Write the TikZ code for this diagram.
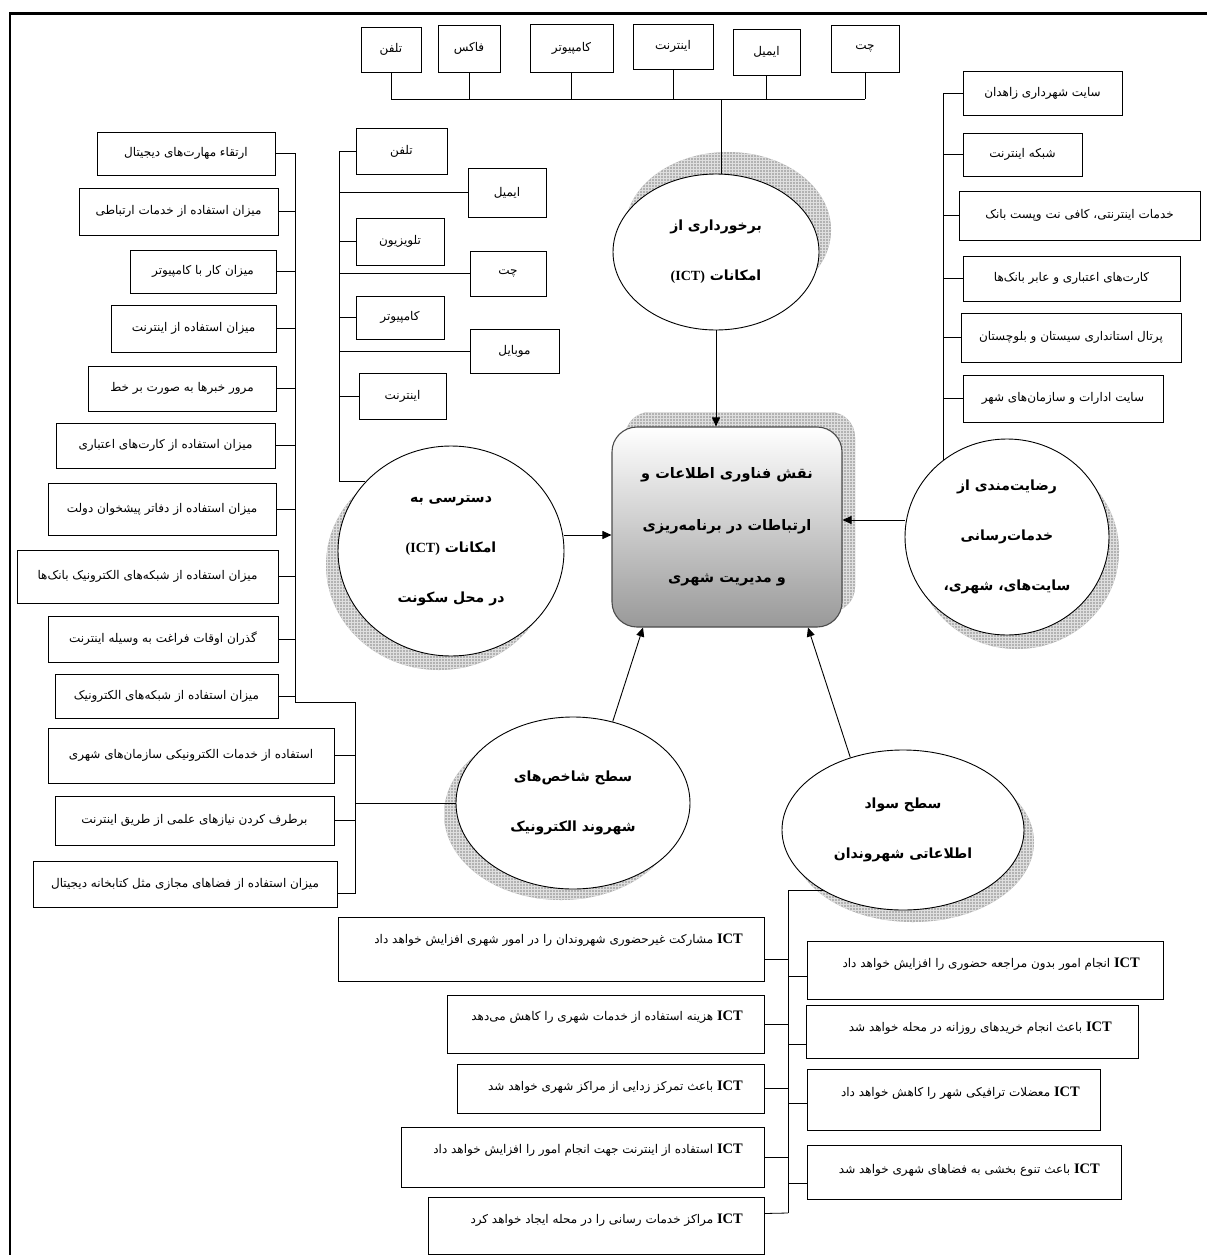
\documentclass[tikz,border=0pt]{standalone}
\usepackage{fontspec}
\usetikzlibrary{shapes.geometric,patterns,arrows.meta}
\TeXXeTstate=1
\newfontfamily\arabicfont[Script=Arabic]{DejaVu Sans}
\newfontfamily\latfont{Liberation Serif}
\newcommand\ictw{\beginL{\latfont\bfseries\fontsize{14.5}{14}\selectfont ICT}\endL}
\newcommand\icp{\beginL{\latfont\bfseries (ICT)}\endL}
\newcommand\bx[6]{\node[box, minimum width={#4-#2}, minimum height={#5-#3}] (#1) at ({(#2+#4)/2},{(#3+#5)/2}) {#6};}
\tikzset{
  box/.style={draw=black, line width=0.8pt, inner sep=0pt, fill=white, font=\arabicfont\fontsize{12}{14}\selectfont},
  btxt/.style={anchor=east, inner sep=0pt, font=\arabicfont\fontsize{12}{14}\selectfont},
  ell/.style={ellipse, draw=black, line width=0.9pt, fill=white, inner sep=0pt, align=center, font=\arabicfont\bfseries\fontsize{14}{50}\selectfont},
  shd/.style={fill=gray!60},
  shdp/.style={pattern=grid, pattern color=gray!25},
  ln/.style={draw=black, line width=0.8pt},
  arr/.style={draw=black, line width=0.9pt, -{Triangle[length=9pt,width=8pt]}}
}
\begin{document}
\begin{tikzpicture}[x=1pt,y=-1pt]
\useasboundingbox (0,0) rectangle (1207,1255);
\fill[white] (0,0) rectangle (1207,1255);
% frame
\draw[line width=3pt] (9,14) -- (1207,14);
\draw[line width=2pt] (10,14) -- (10,1255);

% ---------- shadows ----------
\foreach \s in {shd,shdp}{
  \path[\s] (728,230) ellipse [x radius=103, y radius=78];
  \path[\s, rounded corners=25pt] (625,412) rectangle (855,612);
  \path[\s] (439,565) ellipse [x radius=113, y radius=105];
  \path[\s] (1017,551) ellipse [x radius=102, y radius=98];
  \path[\s] (561,814) ellipse [x radius=117, y radius=86];
  \path[\s] (913,842) ellipse [x radius=121, y radius=80];
}

% ---------- central box ----------
\node[draw=black!70, line width=1.1pt, rounded corners=25pt, top color=white, bottom color=gray!80,
  minimum width=230, minimum height=200, inner sep=0pt, align=center,
  font=\arabicfont\bfseries\fontsize{14.5}{52}\selectfont] (C) at (727,527)
  {\beginR نقش فناوری اطلاعات و\endR\\\beginR ارتباطات در برنامه^^^^200cریزی\endR\\\beginR و مدیریت شهری\endR};

% ---------- ellipses ----------
\node[ell, minimum width=206, minimum height=156] (E1) at (716,252)
  {\beginR برخورداری از\endR\\\beginR امکانات \icp\endR};
\node[ell, minimum width=226, minimum height=210] (E2) at (451,551)
  {\beginR دسترسی به\endR\\\beginR امکانات \icp\endR\\\beginR در محل سکونت\endR};
\node[ell, minimum width=204, minimum height=196] (E3) at (1007,537)
  {\beginR رضایت^^^^200cمندی از\endR\\\beginR خدمات^^^^200cرسانی\endR\\\beginR سایت^^^^200cهای، شهری،\endR};
\node[ell, minimum width=234, minimum height=172] (E4) at (573,803)
  {\beginR سطح شاخص^^^^200cهای\endR\\\beginR شهروند الکترونیک\endR};
\node[ell, minimum width=242, minimum height=160] (E5) at (903,830)
  {\beginR سطح سواد\endR\\\beginR اطلاعاتی شهروندان\endR};

% ---------- top boxes ----------
\bx{ta}{361}{27}{421}{72}{تلفن}
\bx{tb}{438}{25}{500}{72}{فاکس}
\bx{tc}{530}{24}{613}{72}{کامپیوتر}
\bx{td}{633}{24}{713}{69}{اینترنت}
\bx{te}{733}{29}{800}{75}{ایمیل}
\bx{tf}{831}{25}{899}{72}{چت}
\coordinate (B) at (721,99);
\draw[ln] (ta.south |- B) -- (tf.south |- B);
\foreach \n in {ta,tb,tc,td,te,tf} \draw[ln] (\n.south) -- (\n.south |- B);
\draw[ln] (B) -- (B |- E1.north);

% ---------- left-middle boxes ----------
\bx{ma}{356}{128}{447}{174}{تلفن}
\bx{mb}{468}{168}{546}{217}{ایمیل}
\bx{mc}{356}{218}{444}{265}{تلویزیون}
\bx{md}{470}{251}{546}{296}{چت}
\bx{me}{356}{296}{444}{339}{کامپیوتر}
\bx{mf}{470}{329}{559}{373}{موبایل}
\bx{mg}{359}{373}{446}{419}{اینترنت}
\coordinate (T2) at (339,151);
\draw[ln] (ma.west) -| (T2 |- E2.141) -- (E2.141);
\foreach \n in {mb,mc,md,me,mf,mg} \draw[ln] (\n.west) -- (\n.west -| T2);

% ---------- right boxes ----------
\bx{ra}{963}{71}{1122}{115}{\beginR سایت شهرداری زاهدان\endR}
\bx{rb}{963}{133}{1082}{176}{\beginR شبکه اینترنت\endR}
\bx{rc}{959}{191}{1200}{240}{\beginR خدمات اینترنتی، کافی نت وپست بانک\endR}
\bx{rd}{963}{256}{1180}{301}{\beginR کارت^^^^200cهای اعتباری و عابر بانک^^^^200cها\endR}
\bx{re}{961}{313}{1181}{362}{\beginR پرتال استانداری سیستان و بلوچستان\endR}
\bx{rf}{963}{375}{1163}{422}{\beginR سایت ادارات و سازمان^^^^200cهای شهر\endR}
\coordinate (T3) at (943,93);
\draw[ln] (ra.west) -| (E3.130 -| T3);
\foreach \n in {rb,rc,rd,re,rf} \draw[ln] (\n.west) -- (\n.west -| T3);

% ---------- left column ----------
\bx{la}{97}{132}{275}{175}{\beginR ارتقاء مهارت^^^^200cهای دیجیتال\endR}
\bx{lb}{79}{188}{278}{235}{\beginR میزان استفاده از خدمات ارتباطی\endR}
\bx{lc}{130}{250}{276}{293}{\beginR میزان کار با کامپیوتر\endR}
\bx{ld}{111}{305}{276}{352}{\beginR میزان استفاده از اینترنت\endR}
\bx{le}{88}{366}{276}{411}{\beginR مرور خبرها به صورت بر خط\endR}
\bx{lf}{56}{423}{275}{468}{\beginR میزان استفاده از کارت^^^^200cهای اعتباری\endR}
\bx{lg}{48}{483}{276}{535}{\beginR میزان استفاده از دفاتر پیشخوان دولت\endR}
\bx{lh}{17}{550}{278}{603}{\beginR میزان استفاده از شبکه^^^^200cهای الکترونیک بانک^^^^200cها\endR}
\bx{li}{48}{616}{278}{662}{\beginR گذران اوقات فراغت به وسیله اینترنت\endR}
\bx{lj}{55}{674}{278}{718}{\beginR میزان استفاده از شبکه^^^^200cهای الکترونیک\endR}
\bx{lk}{48}{728}{334}{783}{\beginR استفاده از خدمات الکترونیکی سازمان^^^^200cهای شهری\endR}
\bx{ll}{55}{796}{334}{845}{\beginR برطرف کردن نیازهای علمی از طریق اینترنت\endR}
\bx{lm}{33}{861}{337}{907}{\beginR میزان استفاده از فضاهای مجازی مثل کتابخانه دیجیتال\endR}
\coordinate (T1) at (295,702);
\coordinate (T4) at (355,702);
\draw[ln] (la.east) -| (T1) -- (T4) |- ([yshift=-9pt]lm.east);
\foreach \n in {lb,lc,ld,le,lf,lg,lh,li,lj} \draw[ln] (\n.east) -- (\n.east -| T1);
\foreach \n in {lk,ll} \draw[ln] (\n.east) -- (\n.east -| T4);
\draw[ln] (E4.west) -- (E4.west -| T4);

% ---------- bottom boxes ----------
\coordinate (T5) at (788,1213);
\node[box, minimum width=426, minimum height=64] (pa) at (551,949) {};
\node[box, minimum width=317, minimum height=58] (pb) at (605.5,1024) {};
\node[box, minimum width=307, minimum height=49] (pc) at (610.5,1088.5) {};
\node[box, minimum width=363, minimum height=60] (pd) at (582.5,1157) {};
\node[box, minimum width=336, minimum height=57] (pe) at (596,1225.5) {};
\node[btxt] (pat) at (743,940) {\beginR\ictw\ مشارکت غیرحضوری شهروندان را در امور شهری افزایش خواهد داد\endR};
\node[btxt] (pbt) at (743,1017) {\beginR\ictw\ هزینه استفاده از خدمات شهری را کاهش می^^^^200cدهد\endR};
\node[btxt] (pct) at (743,1087) {\beginR\ictw\ باعث تمرکز زدایی از مراکز شهری خواهد شد\endR};
\node[btxt] (pdt) at (743,1150) {\beginR\ictw\ استفاده از اینترنت جهت انجام امور را افزایش خواهد داد\endR};
\node[btxt] (pet) at (743,1220) {\beginR\ictw\ مراکز خدمات رسانی را در  محله ایجاد خواهد کرد\endR};

\node[box, minimum width=356, minimum height=58] (qa) at (985,970) {};
\node[box, minimum width=332, minimum height=53] (qb) at (972,1031.5) {};
\node[box, minimum width=293, minimum height=61] (qc) at (953.5,1099.5) {};
\node[box, minimum width=314, minimum height=54] (qd) at (964,1172) {};
\node[btxt] (qat) at (1140,964) {\beginR\ictw\ انجام امور بدون مراجعه حضوری را افزایش خواهد داد\endR};
\node[btxt] (qbt) at (1112,1028) {\beginR\ictw\ باعث انجام خریدهای روزانه در محله خواهد شد\endR};
\node[btxt] (qct) at (1080,1093) {\beginR\ictw\ معضلات ترافیکی شهر را کاهش خواهد داد\endR};
\node[btxt] (qdt) at (1100,1170) {\beginR\ictw\ باعث تنوع بخشی به فضاهای شهری خواهد شد\endR};

\draw[ln] (E5.217) -- (E5.217 -| T5) -- (T5);
\draw[ln] ([yshift=-10pt]pa.east) -- ([yshift=-10pt]pa.east -| T5);
\foreach \n in {pb,pc,pd} \draw[ln] (\n.east) -- (\n.east -| T5);
\draw[ln] ([yshift=12pt]pe.east) -- (T5);
\draw[ln] ([yshift=-6pt]qa.west) -- ([yshift=-6pt]qa.west -| T5);
\draw[ln] ([yshift=-13pt]qb.west) -- ([yshift=-13pt]qb.west -| T5);
\draw[ln] ([yshift=-4pt]qc.west) -- ([yshift=-4pt]qc.west -| T5);
\draw[ln] ([yshift=-11pt]qd.west) -- ([yshift=-11pt]qd.west -| T5);

% ---------- arrows ----------
\draw[arr] (E1.south) -- (E1.south |- C.north);
\draw[arr] ([yshift=16pt]E2.east) -- ([yshift=16pt]E2.east -| C.west);
\draw[arr] ([yshift=17pt]E3.west) -- ([yshift=17pt]E3.west -| C.east);
\draw[arr] (E4.64) -- ([xshift=-84pt]C.south);
\draw[arr] (E5.126) -- ([xshift=81pt]C.south);
\end{tikzpicture}
\end{document}
